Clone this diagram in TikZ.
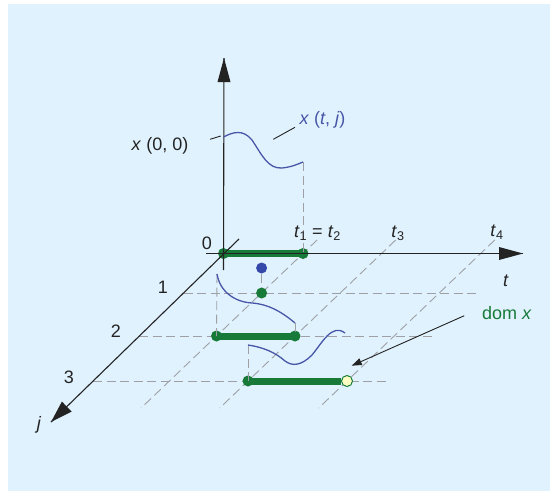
\documentclass[tikz,border=0pt]{standalone}
\usepackage{fontspec}
\setmainfont{Liberation Sans}
\usetikzlibrary{arrows.meta}
\definecolor{panel}{RGB}{224,242,253}
\definecolor{dgreen}{RGB}{24,122,56}
\definecolor{cblue}{RGB}{72,86,168}
\definecolor{dblue}{RGB}{52,72,170}
\definecolor{dgray}{RGB}{158,160,166}
\definecolor{ink}{RGB}{35,35,35}
\definecolor{pyellow}{RGB}{255,255,196}
\tikzset{
  axis/.style={draw=ink, line width=1.1pt},
  guide/.style={draw=dgray, line width=0.9pt, dash pattern=on 9pt off 4.5pt},
  curve/.style={draw=cblue, line width=1.3pt},
  seg/.style={draw=dgreen, line width=7pt},
  gdot/.style={circle, fill=dgreen, inner sep=0pt, minimum size=11pt},
  bdot/.style={circle, fill=dblue, inner sep=0pt, minimum size=11pt},
  ydot/.style={circle, fill=pyellow, draw=dgreen, line width=1pt, inner sep=0pt, minimum size=11pt},
  lbl/.style={text=ink, inner sep=0pt, font=\fontsize{18}{21}\selectfont},
  leader/.style={draw=ink, line width=0.9pt},
}
\begin{document}
\begin{tikzpicture}[x=1pt, y=-1pt]
\useasboundingbox (0,0) rectangle (550,491);
\fill[panel] (8,4) rectangle (550,491);

% coordinates
\coordinate (O) at (223.5,253.5);
\coordinate (vtop) at (224,58);
\coordinate (vbot) at (223.5,270);
\coordinate (tL) at (206,253.5);
\coordinate (tR) at (523,253.5);
\coordinate (jU) at (239,239);
\coordinate (jD) at (51,422);

\coordinate (L1a) at (183.5,293); \coordinate (L1b) at (480,293);
\coordinate (L2a) at (139,336);   \coordinate (L2b) at (433,336);
\coordinate (L3a) at (93,381);    \coordinate (L3b) at (388,381);

\coordinate (d1a) at (317.1,240); \coordinate (d1b) at (141.1,408);
\coordinate (d3a) at (395.7,240); \coordinate (d3b) at (219.7,408);
\coordinate (d4a) at (494.8,240); \coordinate (d4b) at (318.7,408);

\coordinate (c0s) at (223.5,137);
\coordinate (c0e) at (303,162);
\coordinate (c1s) at (217,274);
\coordinate (c1e) at (295,323);
\coordinate (c2s) at (248,345);
\coordinate (c2e) at (345,333);

% dashed guides
\draw[guide] (L1a) -- (L1b);
\draw[guide] (L2a) -- (L2b);
\draw[guide] (L3a) -- (L3b);
\draw[guide] (d1a) -- (d1b);
\draw[guide] (d3a) -- (d3b);
\draw[guide] (d4a) -- (d4b);

% green intervals
\node[gdot] (g0a) at (223.5,253.5) {};
\node[gdot] (g0b) at (303,253.5) {};
\node[gdot] (g1) at (261.6,293) {};
\node[gdot] (g2a) at (216.5,336) {};
\node[gdot] (g2b) at (295,336) {};
\node[gdot] (g3a) at (248,381) {};
\node[ydot] (g3b) at (347,381) {};
\node[bdot] (b1) at (261.6,268) {};
\draw[seg] (g0a.center) -- (g0b.center);
\draw[seg] (g2a.center) -- (g2b.center);
\draw[seg] (g3a.center) -- (g3b.west);

% vertical guides
\draw[guide] (c0e) -- (g0b.center);
\draw[guide] (c1s) -- (g2a.center);
\draw[guide] (c1e) -- (g2b.center);
\draw[guide] (c2s) -- (g3a.center);
\draw[guide] (b1) -- (g1);

% axes
\draw[axis] (vbot) -- (vtop);
\draw[axis] (tL) -- (tR);
\draw[axis] (jU) -- (jD);
\fill[ink] (vtop) -- ++(-6.5,24) -- ++(13,0) -- cycle;
\fill[ink] (tR) -- ++(-24,-6.5) -- ++(0,13) -- cycle;
\fill[ink] (jD) -- ++(20.7,-10.4) -- ++(-9.8,-10) -- cycle;

% curves
\draw[curve] (c0s) .. controls (233,132) and (243,129) .. (252,140)
  .. controls (262,155) and (268,169) .. (282,168)
  .. controls (292,167) and (298,164) .. (c0e);
\draw[curve] (c1s) .. controls (220,292) and (235,302) .. (252,303)
  .. controls (268,304) and (282,312) .. (c1e);
\draw[curve] (c2s) .. controls (262,347) and (275,352) .. (285,361)
  .. controls (293,367) and (302,365) .. (312,355)
  .. controls (322,343) and (332,323) .. (c2e);

% labels
\node[lbl] (lx00) at (160,146) {\textit{x} (0, 0)};
\node[lbl, text=cblue] (lxtj) at (322.5,119.5) {\textit{x} (\textit{t}, \textit{j})};
\coordinate (k1a) at (210,139.3); \coordinate (k1b) at (220.7,136);
\coordinate (k2a) at (273.3,139.3); \coordinate (k2b) at (295,127.3);
\draw[leader] (k1a) -- (k1b);
\draw[leader] (k2a) -- (k2b);
\node[lbl] (l0) at (207,243) {0};
\node[lbl] (l1) at (163,287) {1};
\node[lbl] (l2) at (116,331) {2};
\node[lbl] (l3) at (69,377) {3};
\node[lbl] (lt) at (506,281) {\textit{t}};
\node[lbl] (lj) at (39,425) {\textit{j}};
\node[lbl] (lt12) at (317.5,233) {\textit{t}\textsubscript{1} = \textit{t}\textsubscript{2}};
\node[lbl] (lt3) at (398,233) {\textit{t}\textsubscript{3}};
\node[lbl] (lt4) at (497,232) {\textit{t}\textsubscript{4}};
\node[lbl, text=dgreen] (ldom) at (507,313) {dom \textit{x}};
\coordinate (ka) at (464.3,315.7);
\coordinate (kb) at (351.7,365.7);
\draw[ink, line width=0.9pt, -{Triangle[length=10pt,width=7pt]}] (ka) -- (kb);
\end{tikzpicture}
\end{document}
